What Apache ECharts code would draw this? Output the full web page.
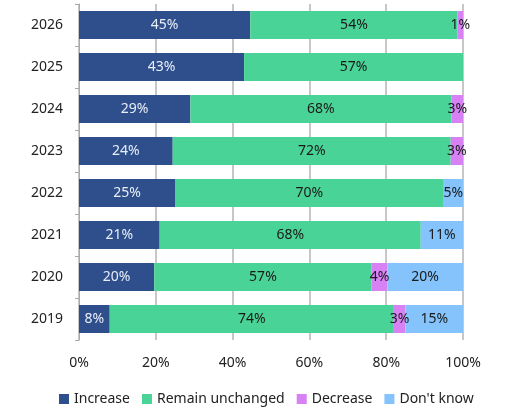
<!DOCTYPE html>
<html>
<head>
    <meta charset="utf-8">
    <title>ECharts</title>
    <script src="https://cdn.jsdelivr.net/npm/echarts@6/dist/echarts.min.js"></script>
    <style>
        html, body { margin: 0; padding: 0; background: #fff; }
    </style>
</head>
<body>
<div id="main" style="width: 508px;height:419px;"></div>
<script type="text/javascript">
    // data, bottom to top (shares in %, labels are rounded)
    var years = ['2019', '2020', '2021', '2022', '2023', '2024', '2025', '2026'];
    var increase = [8, 19.6, 21, 25, 24.4, 29, 43, 44.6];
    var unchanged = [74, 56.6, 68, 70, 72.4, 68, 57, 54];
    var decrease = [3, 4.1, 0, 0, 3.2, 3, 0, 1.4];
    var dontKnow = [15, 19.7, 11, 5, 0, 0, 0, 0];
    var xTicks = [0, 20, 40, 60, 80, 100];

    var fontName = 'Noto Sans';

    function makeSeries(name, data, color, labelColor) {
        return {
            name: name,
            type: 'bar',
            stack: 'total',
            data: data,
            barWidth: 28,
            itemStyle: { color: color },
            label: {
                show: true,
                position: 'inside',
                color: labelColor,
                fontFamily: fontName,
                fontSize: 14,
                formatter: function (p) {
                    return p.value > 0 ? Math.round(p.value) + '%' : '';
                }
            }
        };
    }

    var myChart = echarts.init(document.getElementById('main'));

    var option = {
        animation: false,
        grid: { left: 79, right: 45, top: 4, bottom: 79 },
        legend: {
            bottom: 8,
            left: 54,
            itemWidth: 10,
            itemHeight: 10,
            itemGap: 12,
            icon: 'rect',
            textStyle: { fontFamily: fontName, fontSize: 14, color: '#222' },
            data: ['Increase', 'Remain unchanged', 'Decrease', "Don't know"]
        },
        xAxis: {
            type: 'value',
            min: xTicks[0],
            max: xTicks[xTicks.length - 1],
            interval: 20,
            axisLine: { show: false },
            axisTick: { show: false },
            splitLine: { lineStyle: { color: '#b4b4b4', width: 1.5 } },
            axisLabel: {
                margin: 16,
                fontFamily: fontName,
                fontSize: 14,
                color: '#222',
                formatter: '{value}%'
            }
        },
        yAxis: {
            type: 'category',
            data: years,
            axisLine: { lineStyle: { color: '#aaa' } },
            axisTick: { show: true, length: 4, lineStyle: { color: '#aaa' } },
            axisLabel: {
                margin: 16,
                fontFamily: fontName,
                fontSize: 14,
                color: '#222'
            }
        },
        series: [
            makeSeries('Increase', increase, '#2f4f8c', '#e8eef8'),
            makeSeries('Remain unchanged', unchanged, '#4ad396', '#1a1a1a'),
            makeSeries('Decrease', decrease, '#d781f5', '#1a1a1a'),
            makeSeries("Don't know", dontKnow, '#84c3fb', '#1a1a1a')
        ]
    };

    myChart.setOption(option);
</script>
</body>
</html>
